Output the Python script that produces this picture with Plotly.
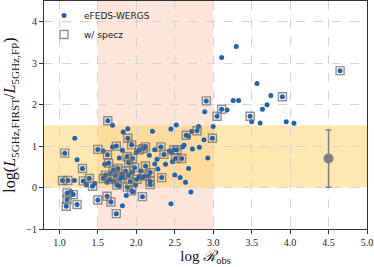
import plotly.graph_objects as go

# log R_obs, log(L_FIRST/L_FP), has spec-z flag
x_obs = [3.30, 3.11, 4.65, 3.57, 3.90, 3.75, 3.26, 3.33, 2.91, 3.70, 3.64, 3.11, 3.18, 2.89, 3.05, 3.48,
         3.50, 3.61, 3.95, 4.05, 3.00, 2.81, 2.79, 2.72, 1.63, 1.69, 1.83, 1.89, 2.21, 2.45, 2.52,
         1.20, 1.89, 1.74, 1.94, 1.50, 1.57, 1.625, 1.07, 2.04, 2.09, 2.12, 2.17, 2.24, 2.32, 2.36,
         2.43, 2.46, 2.49, 2.53, 2.60, 2.62, 2.65, 2.68, 2.99, 2.88, 2.82, 2.73, 2.93, 2.59, 2.51,
         2.47, 2.68, 2.50, 2.57, 2.64, 2.71, 2.45, 2.33, 2.12, 2.18, 2.16, 2.18, 2.18, 2.08, 1.23,
         1.30, 1.04, 1.11, 1.195, 1.31, 1.35, 1.39, 1.43, 1.46, 1.10, 1.15, 1.18, 1.10, 1.09, 1.23,
         1.50, 1.62, 1.67, 1.82, 1.74, 1.87, 1.64, 1.78, 1.88, 1.90, 1.95, 1.95, 1.76, 1.70, 1.60,
         1.57, 1.62, 1.65, 1.79, 1.78, 1.885, 1.955, 1.94, 2.01, 2.04, 2.08, 2.11, 1.66, 1.73, 1.83,
         1.90, 1.86, 1.81, 1.92, 1.99, 2.06, 1.70, 1.75, 2.24, 2.28, 1.98, 1.59, 2.00, 2.27, 2.38,
         1.82, 1.69]
y_ratio = [3.40, 3.14, 2.82, 2.51, 2.19, 2.22, 2.10, 2.10, 2.09, 2.00, 1.89, 1.89, 1.87, 1.83, 1.72, 1.72,
           1.59, 1.56, 1.59, 1.55, 1.47, 1.47, 1.37, 1.35, 1.61, 1.50, 1.34, 1.42, 1.36, 1.41, 1.51,
           1.19, 1.19, 1.00, 1.03, 0.92, 0.88, 0.79, 0.83, 0.91, 0.94, 0.98, 0.78, 0.91, 0.98, 0.80,
           0.88, 0.84, 0.91, 0.91, 0.98, 1.02, 1.26, 1.24, 1.19, 1.15, 0.97, 0.93, 0.71, 0.70, 0.70,
           0.62, 0.46, 0.30, 0.24, 0.13, -0.11, -0.39, 0.24, 0.52, 0.36, 0.27, 0.15, 0.07, -0.22, 0.67,
           0.46, 0.17, 0.17, 0.17, 0.16, 0.07, 0.22, 0.03, 0.10, -0.13, -0.10, -0.17, -0.29, -0.45, -0.41,
           -0.30, -0.21, -0.35, -0.44, -0.63, -0.19, 0.59, 0.71, 0.75, 0.60, 0.70, 0.37, 0.46, 0.42, 0.30,
           0.22, 0.13, 0.19, 0.22, 0.04, 0.01, -0.10, -0.08, 0.20, 0.27, 0.24, 0.28, 0.34, 0.29, 0.25,
           0.30, 0.40, 0.32, 0.14, 0.06, 0.40, 0.15, 0.06, 0.57, 0.45, 0.48, 0.56, 0.85, 0.68, 0.56,
           0.90, 0.98]
has_specz = [0, 0, 1, 0, 1, 0, 0, 0, 1, 0, 0, 1, 0, 0, 1, 1,
             0, 0, 0, 0, 0, 0, 1, 0, 1, 0, 0, 0, 0, 0, 0,
             0, 1, 1, 1, 1, 0, 1, 1, 1, 1, 1, 0, 0, 1, 1,
             0, 0, 1, 1, 0, 0, 1, 0, 1, 0, 0, 0, 0, 1, 1,
             0, 0, 0, 0, 0, 0, 0, 1, 1, 1, 0, 1, 1, 1, 0,
             1, 1, 1, 0, 1, 0, 1, 1, 0, 1, 0, 1, 1, 1, 1,
             1, 1, 1, 0, 1, 0, 1, 0, 1, 1, 1, 0, 1, 1, 1,
             1, 0, 1, 1, 0, 1, 0, 1, 1, 0, 0, 1, 0, 1, 0,
             1, 1, 0, 1, 0, 0, 0, 1, 0, 0, 1, 0, 0, 0, 0,
             0, 0]

# representative uncertainty point
err_x = [4.5]
err_y = [0.70]
err_size = [0.69]

# shaded regions
band_R = [1.5, 3.0]
band_L = [0.0, 1.5]

x_ticks = [1.0, 1.5, 2.0, 2.5, 3.0, 3.5, 4.0, 4.5, 5.0]
y_ticks = [-1, 0, 1, 2, 3, 4]

sx = [x for x, s in zip(x_obs, has_specz) if s]
sy = [y for y, s in zip(y_ratio, has_specz) if s]

fig = go.Figure()
fig.add_trace(go.Scatter(x=x_obs, y=y_ratio, mode="markers", name="eFEDS-WERGS",
                         marker=dict(color="#1f62b4", size=5, line=dict(width=0))))
fig.add_trace(go.Scatter(x=sx, y=sy, mode="markers", name="w/ specz",
                         marker=dict(symbol="square-open", color="rgba(110,110,110,0.75)", size=8,
                                     line=dict(width=1.4, color="rgba(110,110,110,0.75)"))))
fig.add_trace(go.Scatter(x=err_x, y=err_y, mode="markers", showlegend=False,
                         marker=dict(color="#808080", size=10),
                         error_y=dict(type="data", array=err_size, color="#808080", thickness=1.5, width=3)))

fig.add_shape(type="rect", xref="x", yref="paper", x0=band_R[0], x1=band_R[1], y0=0, y1=1,
              fillcolor="rgba(250,160,120,0.28)", line=dict(width=0), layer="below")
fig.add_shape(type="rect", xref="paper", yref="y", x0=0, x1=1, y0=band_L[0], y1=band_L[1],
              fillcolor="rgba(255,205,80,0.45)", line=dict(width=0), layer="below")

axis_common = dict(showline=True, mirror=True, linecolor="#333", linewidth=1,
                   ticks="outside", ticklen=4, tickcolor="#333",
                   showgrid=True, gridcolor="#d4d4d4", griddash="dash", gridwidth=1,
                   zeroline=False, automargin=False,
                   tickfont=dict(family="Liberation Serif", size=10, color="#222"))

fig.update_xaxes(range=[0.8, 5.0], tickvals=x_ticks, ticktext=[f"{v:.1f}" for v in x_ticks],
                 title=dict(text="log <i>ℛ</i><sub>obs</sub>", standoff=3,
                            font=dict(family="Liberation Serif", size=15, color="#111")),
                 **axis_common)
fig.update_yaxes(range=[-1, 4.5], tickvals=y_ticks,
                 title=dict(text="log(<i>L</i><sub>5GHz,FIRST</sub>/<i>L</i><sub>5GHz,FP</sub>)", standoff=6,
                            font=dict(family="Liberation Serif", size=16, color="#111")),
                 **axis_common)

fig.update_layout(width=374, height=267, margin=dict(l=44, r=7, t=1, b=38),
                  plot_bgcolor="white", paper_bgcolor="white",
                  legend=dict(x=0.0, y=1.0, xanchor="left", yanchor="top", bgcolor="rgba(0,0,0,0)",
                              font=dict(family="DejaVu Sans", size=9, color="#222"),
                              itemsizing="trace", tracegroupgap=0))

fig.write_html("out.html", config={"displayModeBar": False},
               post_script="document.body.style.margin='0';document.body.style.padding='0';")
